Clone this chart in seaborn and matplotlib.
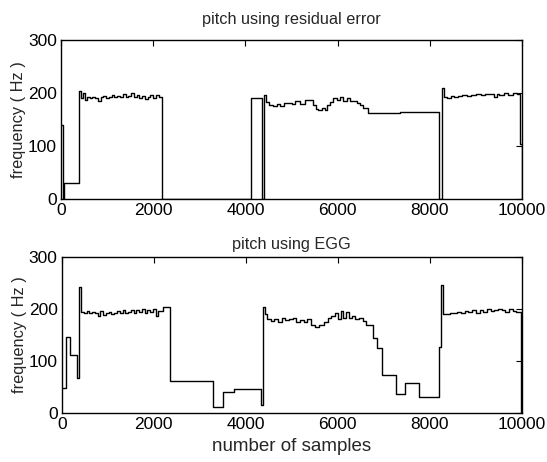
import numpy as np
import pandas as pd
import seaborn as sns
import matplotlib.pyplot as plt

# pitch from residual error (step starts, Hz)
res_x = [0, 40, 60, 400, 440, 480, 520, 560, 620, 680, 740, 800, 860, 920, 980,
         1040, 1100, 1160, 1220, 1280, 1340, 1400, 1460, 1520, 1580, 1640, 1700,
         1760, 1820, 1880, 1940, 2000, 2060, 2120, 2185,
         4115, 4360, 4400, 4440, 4520, 4600, 4680, 4760, 4840, 4920, 5000, 5080,
         5180, 5250, 5290, 5470, 5540, 5580, 5650, 5720, 5760, 5830, 5900, 5980,
         6050, 6120, 6200, 6270, 6350, 6420, 6490, 6560, 6664, 7352, 8200,
         8270, 8310, 8380, 8450, 8520, 8600, 8700, 8800, 8900, 9000, 9100, 9200,
         9300, 9400, 9450, 9500, 9600, 9700, 9800, 9880, 9960, 9990, 10000]
res_y = [140, 0, 30, 205, 190, 200, 188, 192, 190, 193, 191, 186, 192, 194, 190,
         193, 197, 192, 195, 193, 198, 192, 195, 200, 193, 197, 191,
         195, 189, 193, 197, 191, 196, 193, 0,
         190, 0, 197, 183, 178, 176, 180, 176, 181, 182, 180, 186, 180,
         180, 187, 178, 170, 168, 172, 168, 178, 183, 190, 188,
         192, 185, 190, 185, 185, 182, 178, 172, 163, 165, 0,
         210, 193, 191, 194, 192, 195, 196, 195, 197, 198, 197, 199,
         198, 192, 199, 196, 200, 197, 201, 198, 104, 0, 0]

# pitch from EGG
egg_x = [0, 87, 175, 320, 370, 420, 480, 540, 600, 660, 720, 780, 840, 900, 960,
         1020, 1080, 1140, 1200, 1260, 1320, 1380, 1440, 1500, 1560, 1620, 1680,
         1740, 1800, 1860, 1920, 1980, 2040, 2100, 2200, 2350,
         3280, 3500, 3740, 4340, 4370, 4420, 4460, 4540, 4620, 4700, 4780, 4860,
         4940, 5020, 5100, 5180, 5260, 5340, 5420, 5500, 5600, 5700, 5780, 5860,
         5940, 6000, 6060, 6120, 6180, 6240, 6300, 6380, 6460, 6540, 6620, 6754,
         6855, 6970, 7275, 7460, 7770, 8200, 8240, 8290, 8360, 8440, 8520, 8600,
         8680, 8760, 8840, 8920, 9000, 9080, 9160, 9240, 9320, 9400, 9480, 9560,
         9640, 9720, 9800, 9880, 9990, 10000]
egg_y = [48, 147, 111, 68, 242, 195, 193, 196, 192, 194, 193, 186, 196, 188, 192,
         194, 190, 193, 196, 192, 197, 193, 195, 198, 193, 197, 194,
         199, 192, 197, 195, 200, 187, 196, 203, 61,
         11, 41, 46, 15, 203, 190, 180, 176, 180, 175, 183, 178,
         180, 182, 175, 178, 175, 180, 170, 165, 170, 175, 182, 186,
         192, 180, 196, 183, 195, 182, 186, 180, 183, 177, 170, 144,
         124, 73, 37, 57, 31, 127, 246, 190, 191, 193, 192, 195,
         193, 196, 194, 197, 193, 198, 195, 199, 196, 197, 200, 197,
         195, 199, 196, 195, 0, 0]

sns.set_style('white')
plt.rcParams['font.family'] = ['Liberation Sans', 'DejaVu Sans']

fig = plt.figure(figsize=(5.47, 4.62), dpi=100)
ax1 = fig.add_axes([0.1115, 0.569, 0.843, 0.344])
ax2 = fig.add_axes([0.113, 0.106, 0.841, 0.338])

df1 = pd.DataFrame({'x': res_x, 'y': res_y})
df2 = pd.DataFrame({'x': egg_x, 'y': egg_y})

for ax, df, title, pad in [(ax1, df1, 'pitch using residual error', 12),
                           (ax2, df2, 'pitch using EGG', 6)]:
    sns.lineplot(data=df, x='x', y='y', ax=ax, color='black', linewidth=1.0,
                 drawstyle='steps-post', sort=False, estimator=None)
    ax.set_xlim(0, 10000)
    ax.set_ylim(0, 300)
    ax.set_xticks([0, 2000, 4000, 6000, 8000, 10000])
    ax.set_yticks([0, 100, 200, 300])
    ax.tick_params(direction='in', length=4, width=0.8, top=True, right=True,
                   labelsize=12.5, pad=3, colors='black')
    for s in ax.spines.values():
        s.set_visible(True)
        s.set_color('black')
        s.set_linewidth(1.0)
    ax.set_title(title, fontsize=11.7, pad=pad)
    ax.set_ylabel('frequency ( Hz )', fontsize=11.8, labelpad=1)
    ax.set_xlabel('')

ax2.set_xlabel('number of samples', fontsize=13.5, labelpad=4)

fig.savefig('out.png', dpi=100)
